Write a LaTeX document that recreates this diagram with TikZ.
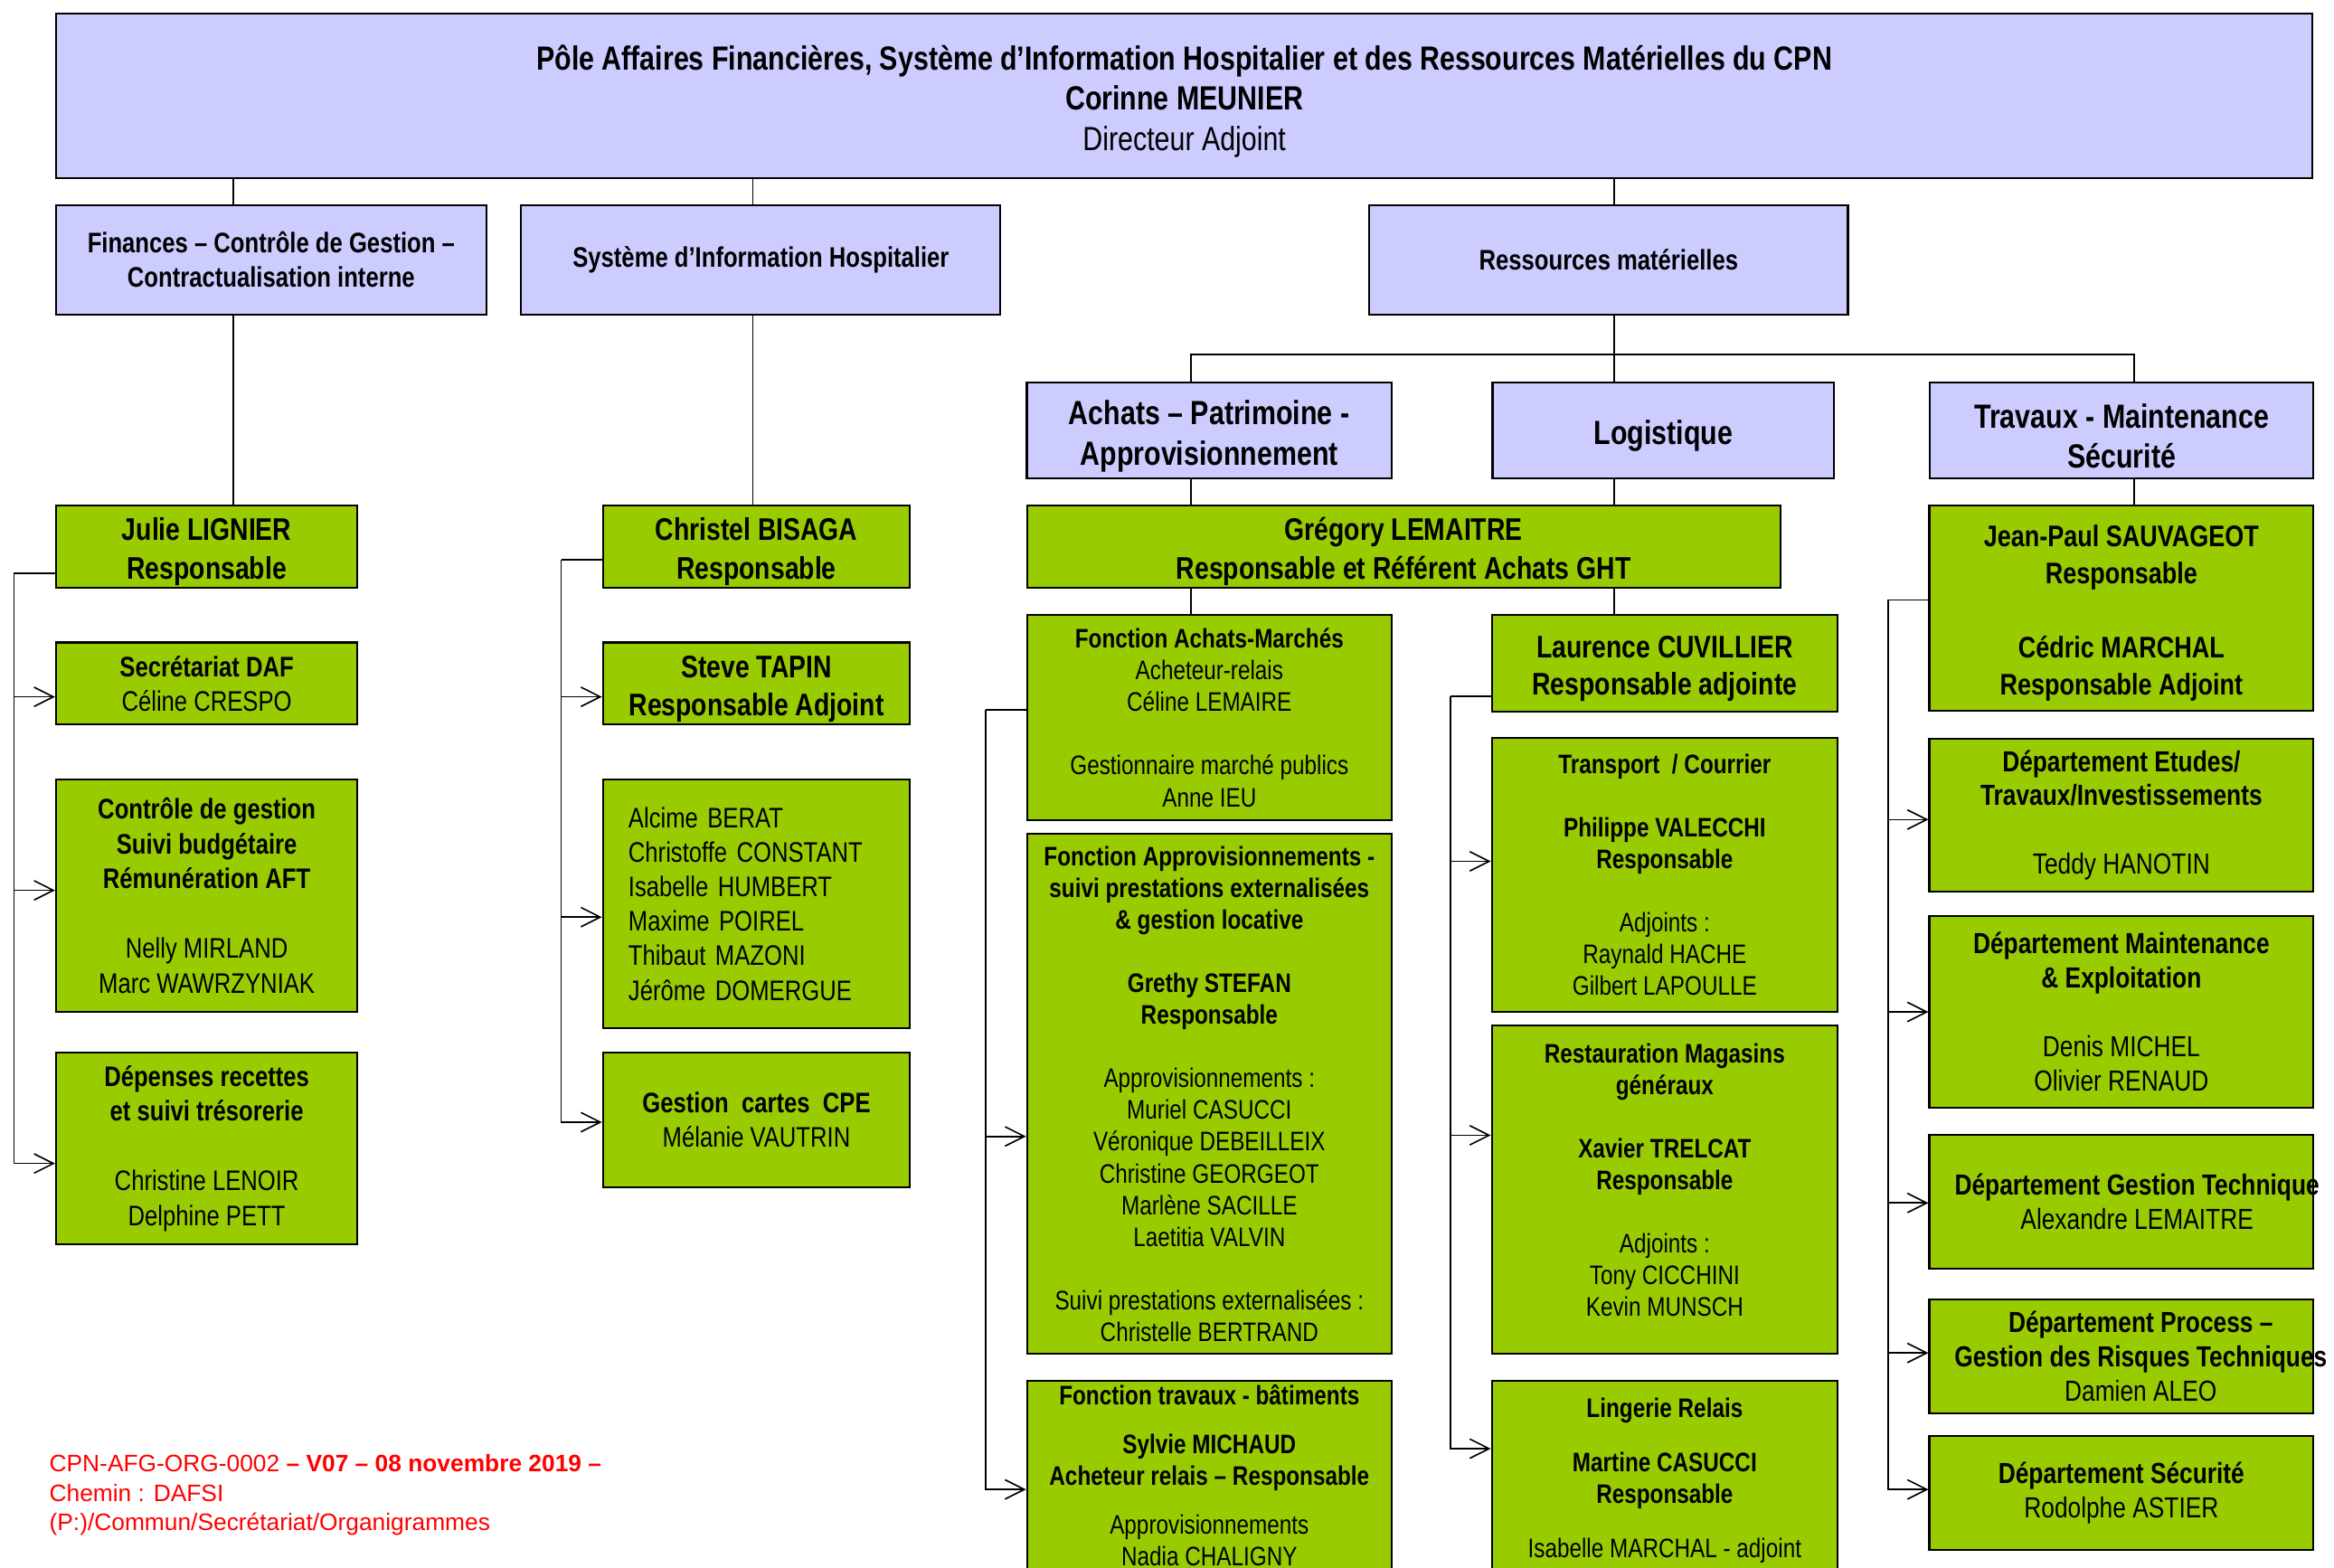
\documentclass[tikz,border=0pt]{standalone}
\usepackage{fontspec}
\setmainfont[FakeStretch=0.82]{Liberation Sans}
\newfontfamily\footfont{Liberation Sans}
\usetikzlibrary{arrows.meta, positioning}

\definecolor{lilas}{HTML}{CCCCFF}
\definecolor{pomme}{HTML}{99CC00}
\definecolor{rouge}{HTML}{FF0000}

% a little more room above a first bold line
\newcommand{\haut}{\rule{0pt}{1.06em}}

\tikzset{
	headbox/.style={draw, line width=1.3pt, fill=lilas, anchor=north west, inner sep=0pt, align=center},
	unitbox/.style={draw, line width=1.3pt, fill=pomme, anchor=north west, inner sep=0pt, align=center},
	link/.style={line width=1pt},
	arr/.style={line width=1pt, -{Straight Barb[length=13pt, width=13pt]}},
	fbig/.style={font=\fontsize{22.5}{27}\selectfont\bfseries},
	fmid/.style={font=\fontsize{19}{23}\selectfont},
	fhead/.style={font=\fontsize{21}{26}\selectfont\bfseries},
	fsmall/.style={font=\fontsize{18}{21.4}\selectfont},
	fright/.style={font=\fontsize{19.5}{23}\selectfont},
}

\begin{document}
\begin{tikzpicture}[x=1pt, y=-1pt]
	\path[use as bounding box, fill=white] (0,0) rectangle (1568,1053);
	
	% direction
	\node[headbox, font=\fontsize{22.5}{27}\selectfont, minimum width=1516pt, minimum height=110.5pt] (pole) at (37,8.5)
		{\haut\textbf{Pôle Affaires Financières, Système d’Information Hospitalier et des Ressources Matérielles du CPN}\\\textbf{Corinne MEUNIER}\\Directeur Adjoint};
	
	% poles
	\node[headbox, font=\fontsize{19}{23}\selectfont\bfseries, minimum width=289pt, minimum height=73.5pt] (fin) at (37,137) {Finances – Contrôle de Gestion –\\Contractualisation interne};
	\node[headbox, font=\fontsize{19}{23}\selectfont\bfseries, minimum width=322pt, minimum height=73.5pt] (sih) at (349.5,137) {Système d’Information Hospitalier};
	\node[headbox, font=\fontsize{19}{23}\selectfont\bfseries, minimum width=321.5pt, minimum height=73.5pt] (rm) at (919.3,137) {Ressources matérielles};
	
	% ressources materielles
	\node[headbox, fbig, minimum width=245pt, minimum height=64.3pt] (achats) at (689.2,256.4) {\haut Achats – Patrimoine -\\Approvisionnement};
	\node[headbox, fbig, minimum width=229.5pt, minimum height=64.3pt] (logis) at (1002,256.4) {\haut Logistique};
	\node[headbox, fbig, minimum width=257.5pt, minimum height=64.3pt] (travaux) at (1295.9,256.4) {\haut Travaux - Maintenance\\Sécurité};
	
	% finances
	\node[unitbox, fhead, minimum width=202.5pt, minimum height=55.3pt] (lignier) at (37,339) {\haut Julie LIGNIER\\Responsable};
	\node[unitbox, fmid, minimum width=202.5pt, minimum height=55pt] (secdaf) at (37,431) {\textbf{Secrétariat DAF}\\Céline CRESPO};
	\node[unitbox, font=\fontsize{19}{23.4}\selectfont, minimum width=202.5pt, minimum height=156pt] (cdg) at (37,523)
		{\textbf{Contrôle de gestion}\\\textbf{Suivi budgétaire}\\\textbf{Rémunération AFT}\\[23.4pt]Nelly MIRLAND\\Marc WAWRZYNIAK};
	\node[unitbox, font=\fontsize{19}{23.4}\selectfont, minimum width=202.5pt, minimum height=129pt] (depenses) at (37,706.5)
		{\textbf{Dépenses recettes}\\\textbf{et suivi trésorerie}\\[23.4pt]Christine LENOIR\\Delphine PETT};
	
	% systeme d'information
	\node[unitbox, fhead, minimum width=206.3pt, minimum height=55.3pt] (bisaga) at (404.4,339) {\haut Christel BISAGA\\Responsable};
	\node[unitbox, font=\fontsize{21}{25}\selectfont\bfseries, minimum width=206.3pt, minimum height=55pt] (tapin) at (404.4,431) {\haut Steve TAPIN\\Responsable Adjoint};
	\node[unitbox, font=\fontsize{19}{23.2}\selectfont, align=left, text width=172pt, inner xsep=17pt, minimum width=206.3pt, minimum height=167pt] (sihteam) at (404.4,523)
		{Alcime BERAT\\Christoffe CONSTANT\\Isabelle HUMBERT\\Maxime POIREL\\Thibaut MAZONI\\Jérôme DOMERGUE};
	\node[unitbox, fmid, minimum width=206.3pt, minimum height=90.5pt] (cartes) at (404.4,706.5) {\textbf{Gestion\ \ cartes\ \ CPE}\\Mélanie VAUTRIN};
	
	% achats - logistique
	\node[unitbox, fhead, minimum width=506pt, minimum height=55.3pt] (lemaitre) at (689.3,339) {\haut Grégory LEMAITRE\\Responsable et Référent Achats GHT};
	\node[unitbox, fsmall, minimum width=245pt, minimum height=137.7pt] (marches) at (689.3,412.5)
		{\textbf{Fonction Achats-Marchés}\\Acheteur-relais\\Céline LEMAIRE\\[21.4pt]Gestionnaire marché publics\\Anne IEU};
	\node[unitbox, font=\fontsize{18}{21.3}\selectfont, minimum width=245pt, minimum height=349.2pt] (appro) at (689.3,559.7)
		{\textbf{Fonction Approvisionnements -}\\\textbf{suivi prestations externalisées}\\\textbf{\& gestion locative}\\[21.3pt]\textbf{Grethy STEFAN}\\\textbf{Responsable}\\[21.3pt]Approvisionnements :\\Muriel CASUCCI\\Véronique DEBEILLEIX\\Christine GEORGEOT\\Marlène SACILLE\\Laetitia VALVIN\\[21.3pt]Suivi prestations externalisées :\\Christelle BERTRAND};
	\node[unitbox, fsmall, minimum width=245pt, minimum height=127pt] (batiments) at (689.3,927)
		{\textbf{Fonction travaux - bâtiments}\\[11.5pt]\textbf{Sylvie MICHAUD}\\\textbf{Acheteur relais – Responsable}\\[11.5pt]Approvisionnements\\Nadia CHALIGNY};
	\node[unitbox, font=\fontsize{21}{25}\selectfont\bfseries, minimum width=232.4pt, minimum height=64.8pt] (cuvillier) at (1001.5,412.5) {\haut Laurence CUVILLIER\\Responsable adjointe};
	\node[unitbox, font=\fontsize{18}{21.3}\selectfont, minimum width=232.4pt, minimum height=184pt] (transport) at (1001.5,495)
		{\textbf{Transport\ \ / Courrier}\\[21.3pt]\textbf{Philippe VALECCHI}\\\textbf{Responsable}\\[21.3pt]Adjoints :\\Raynald HACHE\\Gilbert LAPOULLE};
	\node[unitbox, font=\fontsize{18}{21.3}\selectfont, minimum width=232.4pt, minimum height=220.7pt] (restau) at (1001.5,688.3)
		{\textbf{Restauration Magasins}\\\textbf{généraux}\\[21.3pt]\textbf{Xavier TRELCAT}\\\textbf{Responsable}\\[21.3pt]Adjoints :\\Tony CICCHINI\\Kevin MUNSCH\rule[-13pt]{0pt}{13pt}};
	\node[unitbox, fsmall, minimum width=232.4pt, minimum height=134pt] (lingerie) at (1001.5,927)
		{\textbf{Lingerie Relais}\\[15pt]\textbf{Martine CASUCCI}\\\textbf{Responsable}\\[15pt]Isabelle MARCHAL - adjoint};
	
	% travaux - maintenance
	\node[unitbox, font=\fontsize{20}{25}\selectfont\bfseries, minimum width=258pt, minimum height=137.7pt] (sauvageot) at (1295.5,339)
		{\haut Jean-Paul SAUVAGEOT\\Responsable\\[25pt]Cédric MARCHAL\\Responsable Adjoint};
	\node[unitbox, fright, minimum width=258pt, minimum height=102.7pt] (etudes) at (1295.5,495.6)
		{\textbf{Département Etudes/}\\\textbf{Travaux/Investissements}\\[23pt]Teddy HANOTIN};
	\node[unitbox, fright, minimum width=258pt, minimum height=128.6pt] (maint) at (1295.5,614.9)
		{\textbf{Département Maintenance}\\\textbf{\& Exploitation}\\[23pt]Denis MICHEL\\Olivier RENAUD};
	\node[unitbox, minimum width=258pt, minimum height=90.2pt] (gtech) at (1295.5,761.6) {};
	\node[fright, align=center, inner sep=0pt] (gtechtxt) at ([xshift=10.5pt]gtech.center) {\textbf{Département Gestion Technique}\\Alexandre LEMAITRE};
	\node[unitbox, minimum width=258pt, minimum height=76.8pt] (process) at (1295.5,872.2) {};
	\node[fright, align=center, inner sep=0pt] (processtxt) at ([xshift=13pt]process.center) {\textbf{Département Process –}\\\textbf{Gestion des Risques Techniques}\\Damien ALEO};
	\node[unitbox, fright, minimum width=258pt, minimum height=76.8pt] (secu) at (1295.5,963.9) {\textbf{Département Sécurité}\\Rodolphe ASTIER};
	
	% hierarchy
	\coordinate (finx) at (156.7,0);
	\coordinate (sihx) at (505.8,0);
	\coordinate (rmx) at (1084.5,0);
	\coordinate (achx) at (800,0);
	\coordinate (travx) at (1433.6,0);
	\coordinate (bus) at (1084.5,238);
	
	\draw[link] (pole.south -| finx) -- (fin.north -| finx);
	\draw[link] (fin.south -| finx) -- (lignier.north -| finx);
	\draw[link] (pole.south -| sihx) -- (sih.north -| sihx);
	\draw[link] (sih.south -| sihx) -- (bisaga.north -| sihx);
	\draw[link] (pole.south -| rmx) -- (rm.north -| rmx);
	\draw[link] (rm.south -| rmx) -- (bus);
	\draw[link] (achats.north -| achx) -- (bus -| achx) -- (bus -| travx) -- (travaux.north -| travx);
	\draw[link] (bus) -- (logis.north -| rmx);
	\draw[link] (achats.south -| achx) -- (lemaitre.north -| achx);
	\draw[link] (logis.south -| rmx) -- (lemaitre.north -| rmx);
	\draw[link] (travaux.south -| travx) -- (sauvageot.north -| travx);
	\draw[link] (lemaitre.south -| achx) -- (marches.north -| achx);
	\draw[link] (lemaitre.south -| rmx) -- (cuvillier.north -| rmx);
	
	% finances
	\coordinate (finbus) at (9.4,385);
	\draw[link] (lignier.west |- finbus) -- (finbus);
	\draw[arr] (finbus) |- ([yshift=-9pt]secdaf.west);
	\draw[arr] (finbus) |- ([yshift=3.5pt]cdg.west);
	\draw[arr] (finbus) |- ([yshift=-10pt]depenses.west);
	
	% systeme d'information
	\coordinate (sihbus) at (377,376);
	\draw[link] (bisaga.west |- sihbus) -- (sihbus);
	\draw[arr] (sihbus) |- ([yshift=-9pt]tapin.west);
	\draw[arr] (sihbus) |- ([yshift=-9pt]sihteam.west);
	\draw[arr] (sihbus) |- ([yshift=-1.5pt]cartes.west);
	
	% achats
	\coordinate (achbus) at (662,477);
	\draw[link] (marches.west |- achbus) -- (achbus);
	\draw[arr] (achbus) |- ([yshift=-28.5pt]appro.west);
	\draw[arr] (achbus) |- ([yshift=-9.5pt]batiments.west);
	
	% logistique
	\coordinate (logbus) at (974.6,467.6);
	\draw[link] (cuvillier.west |- logbus) -- (logbus);
	\draw[arr] (logbus) |- ([yshift=9pt]transport.west);
	\draw[arr] (logbus) |- ([yshift=36.6pt]restau.west);
	\draw[arr] (logbus) |- ([yshift=21.4pt]lingerie.west);
	
	% travaux
	\coordinate (travbus) at (1268.4,403);
	\draw[link] (sauvageot.west |- travbus) -- (travbus);
	\draw[arr] (travbus) |- ([yshift=-3pt]etudes.west);
	\draw[arr] (travbus) |- (maint.west);
	\draw[arr] (travbus) |- ([yshift=-0.8pt]gtech.west);
	\draw[arr] (travbus) |- ([yshift=2.3pt]process.west);
	\draw[arr] (travbus) |- ([yshift=2.3pt]secu.west);
	
	% reference
	\node[font=\footfont\fontsize{16}{19.7}\selectfont, text=rouge, align=left, anchor=west, inner sep=0pt] (ref) at (33,1004.4)
		{CPN-AFG-ORG-0002 \textbf{– V07 – 08 novembre 2019 –}\\Chemin : DAFSI\\(P:)/Commun/Secrétariat/Organigrammes};
	
\end{tikzpicture}
\end{document}
